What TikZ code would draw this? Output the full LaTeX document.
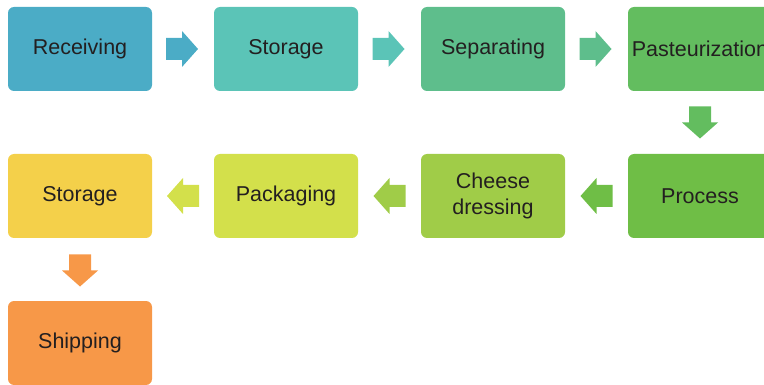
\documentclass[tikz,border=0pt]{standalone}
\usepackage{fontspec}
\setmainfont{Liberation Sans}
\usetikzlibrary{calc}
\definecolor{cA}{RGB}{75,172,198}
\definecolor{cB}{RGB}{91,196,183}
\definecolor{cC}{RGB}{94,190,140}
\definecolor{cD}{RGB}{99,189,95}
\definecolor{cE}{RGB}{111,190,70}
\definecolor{cF}{RGB}{160,204,72}
\definecolor{cG}{RGB}{211,224,75}
\definecolor{cH}{RGB}{244,208,74}
\definecolor{cI}{RGB}{247,152,72}
\definecolor{txt}{RGB}{35,31,32}
\begin{document}
\begin{tikzpicture}[x=1pt,y=1pt,
  stepbox/.style={rounded corners=6pt,minimum width=144pt,minimum height=84pt,
    inner sep=0pt,text=txt,align=center,font=\fontsize{21.5}{26}\selectfont},
  blockarrow/.pic={\fill (-16,-11) -- (0,-11) -- (0,-18) -- (16,0) -- (0,18) -- (0,11) -- (-16,11) -- cycle;}
]
\useasboundingbox (0,0) rectangle (764,-385);
\clip (0,0) rectangle (764,-385);
\node[stepbox,fill=cA] (rec) at (80,-49) {Receiving};
\node[stepbox,fill=cB] (sto) at (286,-49) {Storage};
\node[stepbox,fill=cC] (sep) at (493,-49) {Separating};
\node[stepbox,fill=cD] (pas) at (700,-49) {Pasteurization};
\node[stepbox,fill=cE] (pro) at (700,-196) {Process};
\node[stepbox,fill=cF] (che) at (493,-196) {Cheese\\dressing};
\node[stepbox,fill=cG] (pac) at (286,-196) {Packaging};
\node[stepbox,fill=cH] (st2) at (80,-196) {Storage};
\node[stepbox,fill=cI] (shi) at (80,-343) {Shipping};
\pic[fill=cA] at ($(rec.east)!0.5!(sto.west)+(-1,0)$) {blockarrow};
\pic[fill=cB] at ($(sto.east)!0.5!(sep.west)+(-1,0)$) {blockarrow};
\pic[fill=cC] at ($(sep.east)!0.5!(pas.west)+(-1,0)$) {blockarrow};
\pic[fill=cD,rotate=-90] at ($(pas.south)!0.5!(pro.north)$) {blockarrow};
\pic[fill=cE,rotate=180] at ($(pro.west)!0.5!(che.east)$) {blockarrow};
\pic[fill=cF,rotate=180] at ($(che.west)!0.5!(pac.east)$) {blockarrow};
\pic[fill=cG,rotate=180] at ($(pac.west)!0.5!(st2.east)$) {blockarrow};
\pic[fill=cI,rotate=-90] at ($(st2.south)!0.5!(shi.north)+(0,-1)$) {blockarrow};
\end{tikzpicture}
\end{document}
